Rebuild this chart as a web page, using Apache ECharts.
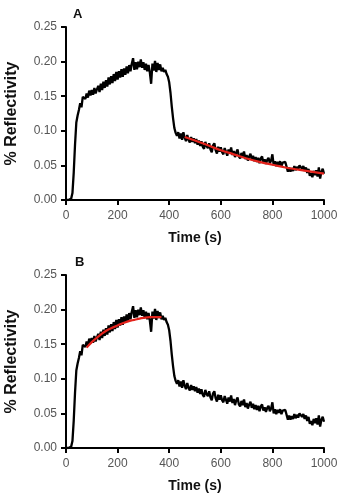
<!DOCTYPE html>
<html>
<head>
<meta charset="utf-8">
<script src="https://cdn.jsdelivr.net/npm/echarts@6/dist/echarts.min.js"></script>
<style>
    html, body {margin: 0; padding: 0; background: #fff;}
    #chart {width: 345px; height: 494px;}
</style>
</head>
<body>
<div id="chart"></div>
<script>
// 时间 (s)，每 5 s 一个点
let timeS = [];
for (let t = 0; t <= 1000; t += 5) timeS.push(t);

// 反射率 % — 从图上读出来的 (A、B 两图是同一条曲线)，每行 100 s
let reflectivity = [
    0, 0, 0, 0, 0.002, 0.01, 0.04, 0.08, 0.112, 0.122, 0.13, 0.14, 0.134, 0.149, 0.15, 0.146, 0.154, 0.148, 0.158, 0.151,
    0.159, 0.152, 0.162, 0.154, 0.16, 0.165, 0.156, 0.168, 0.159, 0.171, 0.162, 0.173, 0.164, 0.177, 0.167, 0.179, 0.169, 0.182, 0.172, 0.185,
    0.174, 0.186, 0.177, 0.189, 0.178, 0.19, 0.181, 0.193, 0.183, 0.195, 0.186, 0.197, 0.205, 0.188, 0.199, 0.189, 0.2, 0.192, 0.203, 0.191,
    0.199, 0.188, 0.197, 0.186, 0.195, 0.184, 0.168, 0.197, 0.187, 0.201, 0.185, 0.198, 0.188, 0.196, 0.186, 0.191, 0.185, 0.188, 0.182, 0.178,
    0.17, 0.155, 0.135, 0.118, 0.104, 0.097, 0.093, 0.098, 0.089, 0.096, 0.087, 0.098, 0.09, 0.085, 0.094, 0.087, 0.083, 0.091, 0.084, 0.089,
    0.082, 0.088, 0.08, 0.086, 0.078, 0.085, 0.077, 0.074, 0.084, 0.078, 0.075, 0.082, 0.073, 0.069, 0.079, 0.082, 0.072, 0.067, 0.077, 0.07,
    0.076, 0.069, 0.066, 0.075, 0.07, 0.064, 0.073, 0.067, 0.076, 0.065, 0.071, 0.062, 0.069, 0.073, 0.063, 0.06, 0.068, 0.062, 0.07, 0.059,
    0.065, 0.057, 0.063, 0.067, 0.058, 0.064, 0.056, 0.062, 0.055, 0.061, 0.053, 0.06, 0.063, 0.054, 0.059, 0.052, 0.058, 0.061, 0.053, 0.057,
    0.066, 0.05, 0.056, 0.049, 0.055, 0.051, 0.056, 0.049, 0.054, 0.056, 0.055, 0.054, 0.041, 0.047, 0.041, 0.046, 0.042, 0.049, 0.043, 0.048,
    0.044, 0.05, 0.052, 0.045, 0.049, 0.042, 0.047, 0.039, 0.045, 0.035, 0.039, 0.033, 0.042, 0.036, 0.043, 0.034, 0.047, 0.031, 0.041, 0.045,
    0.038
];

// A 图：解离段拟合 (红线)
let fitATime = [460, 500, 550, 600, 650, 700, 750, 800, 850, 900, 950, 1000];
let fitAValue = [0.091, 0.086, 0.079, 0.072, 0.066, 0.060, 0.055, 0.051, 0.047, 0.044, 0.041, 0.038];

// B 图：结合段拟合 (红线)
let fitBTime = [80, 100, 125, 150, 175, 200, 225, 250, 275, 300, 325, 350, 370];
let fitBValue = [0.145, 0.153, 0.161, 0.168, 0.173, 0.177, 0.181, 0.184, 0.186, 0.188, 0.189, 0.189, 0.189];

let yTicks = [0, 0.05, 0.1, 0.15, 0.2, 0.25];
let xTicks = [0, 200, 400, 600, 800, 1000];

function pairs(xs, ys) {
    return xs.map((x, i) => [x, ys[i]]);
}

let myChart = echarts.init(document.getElementById('chart'), null, {renderer: 'canvas'});

let axisLineStyle = {show: true, lineStyle: {color: '#000', width: 2}};
let tickStyle = {show: true, length: 5, lineStyle: {color: '#000', width: 2}};

function xAxisFor(idx) {
    return {
        gridIndex: idx,
        type: 'value',
        min: xTicks[0],
        max: xTicks[xTicks.length - 1],
        interval: 200,
        name: 'Time (s)',
        nameLocation: 'middle',
        nameGap: 31,
        nameTextStyle: {fontFamily: 'Liberation Sans', fontWeight: 'bold', fontSize: 14, color: '#111'},
        axisLine: axisLineStyle,
        axisTick: tickStyle,
        splitLine: {show: false},
        axisLabel: {fontFamily: 'Liberation Sans', fontSize: 12, color: '#555', margin: 10, formatter: v => String(v)}
    };
}

function yAxisFor(idx) {
    return {
        gridIndex: idx,
        type: 'value',
        min: yTicks[0],
        max: yTicks[yTicks.length - 1],
        interval: 0.05,
        name: '% Reflectivity',
        nameLocation: 'middle',
        nameGap: 46,
        nameTextStyle: {fontFamily: 'Liberation Sans', fontWeight: 'bold', fontSize: 16, color: '#111'},
        axisLine: axisLineStyle,
        axisTick: tickStyle,
        splitLine: {show: false},
        axisLabel: {
            fontFamily: 'Liberation Sans', fontSize: 12, color: '#555', margin: 9,
            formatter: v => v.toFixed(2)
        }
    };
}

let blackLine = {color: '#000', width: 2.3};
let redLine = {color: '#e3221b', width: 2.2};

let option = {
    animation: false,
    title: [
        {text: 'A', left: 68, top: 3, textStyle: {fontFamily: 'Liberation Sans', fontWeight: 'bold', fontSize: 13, color: '#111'}},
        {text: 'B', left: 70, top: 251, textStyle: {fontFamily: 'Liberation Sans', fontWeight: 'bold', fontSize: 13, color: '#111'}}
    ],
    grid: [
        {left: 66, right: 21, top: 27, height: 173, outerBoundsMode: 'none', containLabel: false},
        {left: 66, right: 21, top: 275, height: 173, outerBoundsMode: 'none', containLabel: false}
    ],
    xAxis: [xAxisFor(0), xAxisFor(1)],
    yAxis: [yAxisFor(0), yAxisFor(1)],
    series: [
        {type: 'line', xAxisIndex: 0, yAxisIndex: 0, data: pairs(timeS, reflectivity), showSymbol: false, lineStyle: blackLine, z: 2},
        {type: 'line', xAxisIndex: 0, yAxisIndex: 0, data: pairs(fitATime, fitAValue), showSymbol: false, smooth: true, lineStyle: redLine, z: 3},
        {type: 'line', xAxisIndex: 1, yAxisIndex: 1, data: pairs(timeS, reflectivity), showSymbol: false, lineStyle: blackLine, z: 2},
        {type: 'line', xAxisIndex: 1, yAxisIndex: 1, data: pairs(fitBTime, fitBValue), showSymbol: false, smooth: true, lineStyle: redLine, z: 3}
    ]
};

myChart.setOption(option);
</script>
</body>
</html>
